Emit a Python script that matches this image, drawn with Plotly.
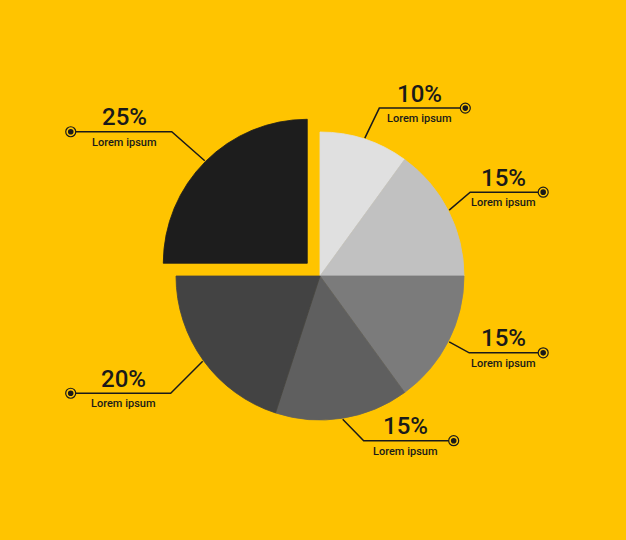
"""Pie infographic: six grey slices on yellow, one pulled out, with leader-line labels"""

import math
import plotly.graph_objects as go

# data
labels = ["A", "B", "C", "D", "E", "F"]
values = [10, 15, 15, 15, 20, 25]
pct_text = ["10%", "15%", "15%", "15%", "20%", "25%"]
sub_text = ["Lorem ipsum"] * 6
pulls = [0, 0, 0, 0, 0, 0.125]
colors = ["#e0e0e0", "#c1c1c1", "#7b7b7b", "#5f5f5f", "#434343", "#1d1d1d"]

W, H = 626, 540
BG = "#ffc400"
INK = "#1a1a1a"

# pie placement in pixels
cx, cy = 320, 276
R = 144
side = 2 * R * (1 + max(pulls))

# leader styling per label: diagonal kink (px) and horizontal run (px)
kink = [(14.5, -30), (21, -18), (20, 11), (21, 21.5), (-32, 32), (-33, -29)]
run = [86, 73, 74, 90, -100, -101]


def px(x):
    return x / W


def py(y):
    return 1 - y / H


fig = go.Figure()

fig.add_trace(
    go.Pie(
        labels=labels,
        values=values,
        # outline each slice in its own colour to hide antialias seams
        marker=dict(colors=colors, line=dict(color=colors, width=0.8)),
        pull=pulls,
        sort=False,
        direction="clockwise",
        rotation=0,
        textinfo="none",
        hoverinfo="skip",
        showlegend=False,
        domain=dict(
            x=[px(cx - side / 2), px(cx + side / 2)],
            y=[py(cy + side / 2), py(cy - side / 2)],
        ),
    )
)

# leader lines + labels, anchored at each slice's mid angle on the rim
shapes = []
annotations = []
total = sum(values)
cum = 0
for i, v in enumerate(values):
    mid = math.radians((cum + v / 2) / total * 360)
    cum += v
    sx, sy = math.sin(mid), -math.cos(mid)
    ox = cx + pulls[i] * R * sx
    oy = cy + pulls[i] * R * sy
    x0, y0 = ox + (R + 1) * sx, oy + (R + 1) * sy
    x1, y1 = x0 + kink[i][0], y0 + kink[i][1]
    x2 = x1 + run[i]
    sgn = 1 if run[i] > 0 else -1

    shapes.append(
        dict(
            type="path",
            xref="paper",
            yref="paper",
            path=f"M {px(x0)} {py(y0)} L {px(x1)} {py(y1)} L {px(x2)} {py(y1)}",
            line=dict(color=INK, width=1.5),
        )
    )
    # dot: ring + filled centre
    shapes.append(
        dict(
            type="circle",
            xref="paper",
            yref="paper",
            x0=px(x2 - 5), x1=px(x2 + 5),
            y0=py(y1 + 5), y1=py(y1 - 5),
            line=dict(color=INK, width=1.2),
            fillcolor=BG,
        )
    )
    shapes.append(
        dict(
            type="circle",
            xref="paper",
            yref="paper",
            x0=px(x2 - 2.8), x1=px(x2 + 2.8),
            y0=py(y1 + 2.8), y1=py(y1 - 2.8),
            line=dict(width=0),
            fillcolor=INK,
        )
    )

    tx = (x1 + x2 - 6 * sgn) / 2
    annotations.append(
        dict(
            x=px(tx), y=py(y1 - 14.5),
            xref="paper", yref="paper",
            text=pct_text[i],
            showarrow=False,
            xanchor="center", yanchor="middle",
            font=dict(family="Roboto", size=24, color=INK, weight=500),
        )
    )
    annotations.append(
        dict(
            x=px(tx), y=py(y1 + 10.5),
            xref="paper", yref="paper",
            text=sub_text[i],
            showarrow=False,
            xanchor="center", yanchor="middle",
            font=dict(family="Roboto", size=11, color=INK, weight=500),
        )
    )

fig.update_layout(
    width=W,
    height=H,
    margin=dict(l=0, r=0, t=0, b=0),
    paper_bgcolor=BG,
    plot_bgcolor=BG,
    shapes=shapes,
    annotations=annotations,
)

# drop the browser's default body margin so the figure fills the window
fig.write_html(
    "out.html",
    config={"displayModeBar": False},
    post_script="document.body.style.margin='0';",
)
